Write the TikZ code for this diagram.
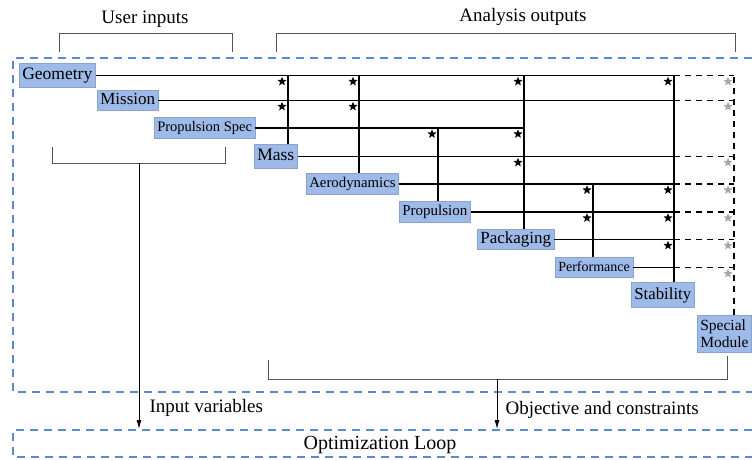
\documentclass[tikz,border=0pt]{standalone}
\usepackage{fontspec}
\setmainfont{Liberation Serif}
\usetikzlibrary{shapes.geometric,arrows.meta}
\definecolor{modfill}{HTML}{9DBAE8}
\definecolor{modline}{HTML}{8AA3CC}
\definecolor{loopblue}{HTML}{5A8AD6}
\definecolor{brkgray}{HTML}{555555}
\newcommand{\modfs}[1]{\fontsize{#1}{#1}\selectfont}
\begin{document}
\begin{tikzpicture}[x=1pt,y=-1pt,>={Latex[length=9pt,width=5pt]},
  module/.style={fill=modfill,draw=modline,line width=.6pt,inner xsep=3pt,inner ysep=4pt,
    text height=12.5pt,text depth=4pt,anchor=west},
  small/.style={inner ysep=3pt,text height=11pt,text depth=3.5pt},
  link/.style={line width=1.2pt},
  feed/.style={line width=1.2pt,dash pattern=on 6pt off 5pt},
  bstar/.style={star,star points=5,star point ratio=2.3,fill=black,inner sep=0pt,minimum size=9.5pt},
  gstar/.style={bstar,fill=gray!70},
  brk/.style={brkgray,line width=.9pt},
  loop/.style={loopblue,line width=1.6pt,dash pattern=on 8pt off 6pt},
  lbl/.style={font=\modfs{19}}]
\useasboundingbox (0,0) rectangle (752,460);

\node[module,font=\modfs{17.5}] (geo) at (19,75.5) {Geometry};
\node[module,small,font=\modfs{17}] (mis) at (97,100.5) {Mission};
\node[module,small,font=\modfs{14.5}] (psp) at (154,128) {Propulsion Spec};
\node[module,font=\modfs{17.5}] (mass) at (254,156.5) {Mass};
\node[module,small,font=\modfs{14.8}] (aero) at (306,184) {Aerodynamics};
\node[module,small,font=\modfs{15}] (prop) at (399,212) {Propulsion};
\node[module,small,font=\modfs{17}] (pack) at (477,239.5) {Packaging};
\node[module,small,font=\modfs{14},inner ysep=2.5pt] (perf) at (555,267.5) {Performance};
\node[module,font=\modfs{16.8}] (stab) at (631,295) {Stability};
\node[module,font=\modfs{15.5},text height={},text depth={},align=left,inner ysep=5pt] (spm) at (697,333.5) {Special\\[1pt]Module};

\coordinate (cMass) at (288,0);
\coordinate (cAero) at (359,0);
\coordinate (cProp) at (438,0);
\coordinate (cPack) at (524,0);
\coordinate (cPerf) at (593,0);
\coordinate (cStab) at (674,0);
\coordinate (cSpec) at (734,0);

\foreach \r in {geo,mis,mass,aero,prop,pack,perf}{
  \draw[link] (\r.east) -- (cStab |- \r.east);
  \draw[feed] (cStab |- \r.east) -- (cSpec |- \r.east);
}
\draw[link] (psp.east) -- (cPack |- psp.east);

\foreach \c/\n/\t in {cMass/mass/geo,cAero/aero/geo,cProp/prop/psp,cPack/pack/geo,cPerf/perf/aero,cStab/stab/geo}
  \draw[link] (\c |- \n.north) -- (\c |- \t.east);
\draw[feed] (cSpec |- spm.north) -- (cSpec |- geo.east);

\foreach \c/\r in {cMass/geo,cMass/mis,cAero/geo,cAero/mis,cProp/psp,cPack/geo,cPack/psp,cPack/mass,
  cPerf/aero,cPerf/prop,cStab/geo,cStab/aero,cStab/prop,cStab/pack}
  \node[bstar,xshift=-6pt,yshift=-6pt] (s-\c-\r) at (\c |- \r.east) {};
\foreach \r in {geo,mis,mass,aero,prop,pack,perf}
  \node[gstar,xshift=-6pt,yshift=-6pt] (g-\r) at (cSpec |- \r.east) {};

\node[lbl] (uin) at (145,19) {User inputs};
\node[lbl] (aout) at (523,17) {Analysis outputs};
\draw[brk] (59,52) |- (232,33) -- (232,52);
\draw[brk] (276,52) |- (735,33) -- (735,52);
\draw[brk] (52,147) |- (225,163) -- (225,147);
\draw[brk] (268,360) |- (727,379) -- (727,356);

\draw[loop] (752,58) -| (13,392) -- (752,392);
\draw[loop] (752,430) -| (13,457) -- (752,457);
\node[font=\modfs{20}] (opt) at (380,445) {Optimization Loop};

\coordinate (inSrc) at (139,163);
\coordinate (inDst) at (139,429);
\coordinate (objSrc) at (497,379);
\coordinate (objDst) at (497,429);
\draw[->,line width=.9pt] (inSrc) -- (inDst);
\draw[->,line width=.9pt] (objSrc) -- (objDst);
\node[lbl,anchor=west] (inv) at (146,408) {Input variables};
\node[lbl,anchor=west] (obj) at (502,410) {Objective and constraints};
\end{tikzpicture}
\end{document}
